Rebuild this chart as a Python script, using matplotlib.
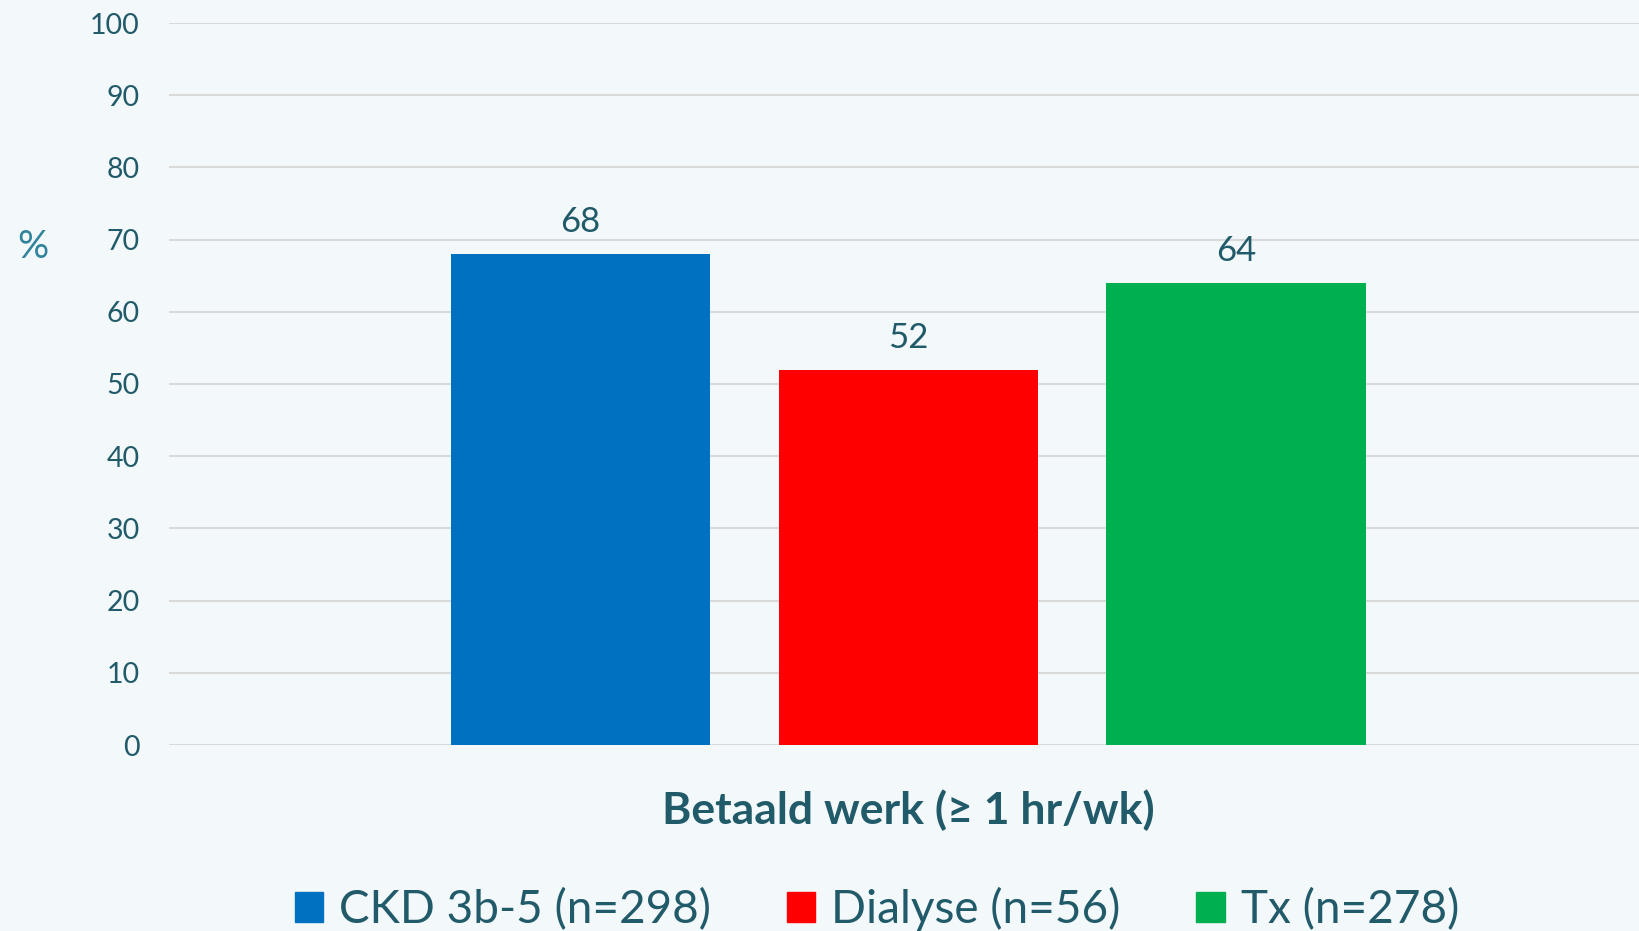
import matplotlib
matplotlib.use('Agg')
import matplotlib.pyplot as plt
from matplotlib.patches import Patch

# data
groups = ['CKD 3b-5 (n=298)', 'Dialyse (n=56)', 'Tx (n=278)']
values = [68, 52, 64]
colors = ['#0070C0', '#FF0000', '#00B050']
category = 'Betaald werk (≥ 1 hr/wk)'
yticks = list(range(0, 101, 10))

plt.rcParams['font.family'] = ['Lato', 'DejaVu Sans']
bg = '#F3F8FB'
txt = '#215A69'

fig = plt.figure(figsize=(16.39, 9.31), dpi=100, facecolor=bg)
ax = fig.add_axes([169 / 1639, 1 - 745 / 931, 1470 / 1639, 722 / 931], facecolor=bg)

offsets = [-0.220, 0.003, 0.226]
width = 0.1765
for off, v, c in zip(offsets, values, colors):
    ax.bar(off, v, width=width, color=c, zorder=3)
    ax.text(off, v + 2.2, str(v), ha='center', va='bottom', fontsize=25, color=txt)

ax.set_xlim(-0.5, 0.5)
ax.set_ylim(0, 100)
ax.set_yticks(yticks)
ax.set_xticks([])
ax.grid(axis='y', color='#D9D9D9', linewidth=1.5, zorder=0)
ax.set_axisbelow(True)
for s in ax.spines.values():
    s.set_visible(False)
ax.tick_params(axis='y', length=0, pad=21, labelsize=20.5, labelcolor=txt)

fig.text(33 / 1639, 1 - 247 / 931, '%', fontsize=28, color='#31849B', ha='center', va='center')
fig.text(908 / 1639, 1 - 810 / 931, category, fontsize=32, fontweight='bold', color=txt,
         ha='center', va='center')

handles = [Patch(color=c) for c in colors]
leg = fig.legend(handles, groups, loc='center', bbox_to_anchor=(877 / 1639, 1 - 909 / 931),
                 ncol=3, frameon=False, fontsize=33, labelcolor=txt,
                 handlelength=0.62, handleheight=0.62, handletextpad=0.35, columnspacing=1.65)

fig.savefig('out.png', dpi=100, facecolor=bg)
